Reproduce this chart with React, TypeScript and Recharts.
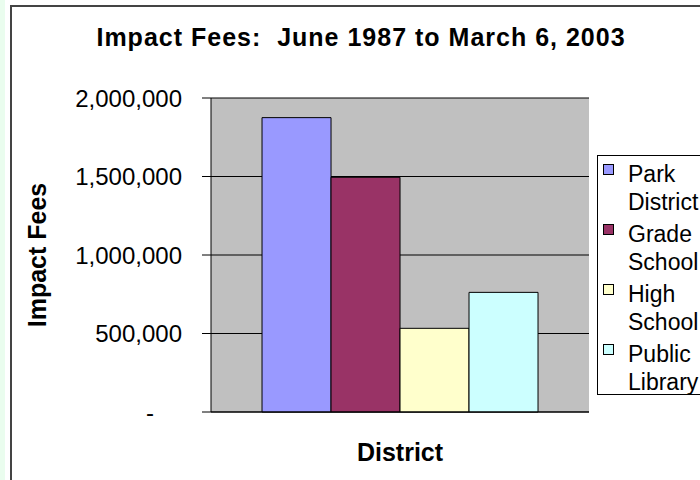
import React from 'react';
import { BarChart, Bar, XAxis, YAxis, CartesianGrid, Legend } from 'recharts';

// Werte
const seriesKeys = ['park', 'grade', 'high', 'library'];
const seriesNames = ['Park District', 'Grade School', 'High School', 'Public Library'];
const seriesValues = [1875000, 1495000, 533000, 762000];
const seriesColors = ['#9999ff', '#993366', '#ffffcc', '#ccffff'];
const yTicks = [0, 500000, 1000000, 1500000, 2000000];
const categoryName = '';

const FONT = '"Liberation Sans", Arial, Helvetica, sans-serif';

const data = [
  seriesKeys.reduce(
    (row, key, i) => ({ ...row, [key]: seriesValues[i] }),
    { name: categoryName } as Record<string, string | number>
  ),
];

// Y-Achsen-Beschriftung im Excel-Buchhaltungsformat ("-" für 0)
const YTick = (props: any) => {
  const { x, y, payload } = props;
  const isZero = payload.value === 0;
  const label = isZero ? '-' : Number(payload.value).toLocaleString('en-US');
  return (
    <text
      x={x + (isZero ? -28 : 0)}
      y={y}
      dy="0.355em"
      textAnchor="end"
      fontSize={24}
      fontFamily={FONT}
      fill="#000"
    >
      {label}
    </text>
  );
};

// Legende in der Reihenfolge der Datenreihen (nicht alphabetisch)
const renderLegend = (props: any) => {
  const payload = [...(props.payload || [])].sort(
    (a: any, b: any) => seriesNames.indexOf(a.value) - seriesNames.indexOf(b.value)
  );
  return (
    <div
      style={{
        boxSizing: 'border-box',
        width: 140,
        height: 240,
        border: '1px solid #000',
        background: '#fff',
        paddingTop: 4,
        paddingLeft: 5,
        fontFamily: FONT,
        fontSize: 23,
        lineHeight: '28px',
        color: '#000',
      }}
    >
      {payload.map((entry: any) => (
        <div key={entry.value} style={{ display: 'flex', height: 60 }}>
          <div
            style={{
              width: 11,
              height: 11,
              marginTop: 4,
              marginRight: 14,
              border: '1px solid #000',
              background: entry.color,
              flex: 'none',
              boxSizing: 'border-box',
            }}
          />
          <div style={{ width: 80 }}>{entry.value}</div>
        </div>
      ))}
    </div>
  );
};

const YLabel = (props: any) => {
  const { viewBox } = props;
  const cy = viewBox.y + viewBox.height / 2;
  return (
    <text
      x={46}
      y={cy}
      transform={`rotate(-90, 46, ${cy})`}
      textAnchor="middle"
      fontSize={25}
      fontWeight="bold"
      fontFamily={FONT}
      fill="#000"
    >
      Impact Fees
    </text>
  );
};

const XLabel = (props: any) => {
  const { viewBox } = props;
  return (
    <text
      x={viewBox.x + viewBox.width / 2}
      y={viewBox.y + 49}
      textAnchor="middle"
      fontSize={25}
      fontWeight="bold"
      fontFamily={FONT}
      fill="#000"
    >
      District
    </text>
  );
};

export default function App() {
  return (
    <div
      style={{
        position: 'absolute',
        left: 0,
        top: 0,
        width: 700,
        height: 480,
        overflow: 'hidden',
        background: '#fff',
      }}
    >
      {/* linker Farbstreifen und Diagrammrahmen */}
      <div style={{ position: 'absolute', left: 0, top: 0, width: 5, height: 480, background: '#eafdee' }} />
      <div style={{ position: 'absolute', left: 10, top: 5, width: 690, height: 2, background: '#444' }} />
      <div style={{ position: 'absolute', left: 10, top: 5, width: 2, height: 475, background: '#444' }} />
      <div style={{ position: 'absolute', left: 0, top: 0 }}>
        <BarChart
          width={700}
          height={480}
          data={data}
          margin={{ top: 98, right: 111, bottom: 28, left: 0 }}
          barCategoryGap="13.5%"
          barGap={0}
        >
          <CartesianGrid fill="#c0c0c0" stroke="#000" vertical={false} />
          <XAxis
            dataKey="name"
            height={40}
            tick={false}
            tickLine={false}
            axisLine={{ stroke: '#000' }}
            label={<XLabel />}
          />
          <YAxis
            width={211}
            domain={[0, 2000000]}
            ticks={yTicks}
            interval={0}
            tickSize={9}
            tickMargin={20}
            tick={<YTick />}
            tickLine={{ stroke: '#000' }}
            axisLine={{ stroke: '#000' }}
            label={<YLabel />}
          />
          <Legend
            layout="vertical"
            align="center"
            verticalAlign="middle"
            content={renderLegend}
            wrapperStyle={{ left: 597, top: 155, width: 140, height: 240 }}
          />
          {seriesKeys.map((key, i) => (
            <Bar
              key={key}
              dataKey={key}
              name={seriesNames[i]}
              fill={seriesColors[i]}
              stroke="#000"
              strokeWidth={1}
              isAnimationActive={false}
            />
          ))}
        </BarChart>
      </div>
      {/* Titel */}
      <div
        style={{
          position: 'absolute',
          left: 0,
          top: 25,
          width: 722,
          textAlign: 'center',
          fontFamily: FONT,
          fontSize: 25,
          fontWeight: 'bold',
          letterSpacing: 1,
          lineHeight: '25px',
          whiteSpace: 'pre',
          color: '#000',
        }}
      >
        {'Impact Fees:  June 1987 to March 6, 2003'}
      </div>
    </div>
  );
}
